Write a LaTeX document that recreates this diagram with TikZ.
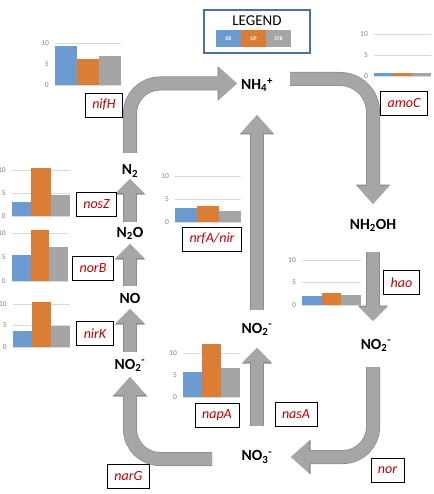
\documentclass[tikz,border=0pt]{standalone}
\usepackage{fontspec}
\setmainfont{Carlito}
\usepackage{tikz}
\usetikzlibrary{arrows.meta,calc}

\definecolor{ercol}{HTML}{6C9BD2}
\definecolor{gpcol}{HTML}{DC7D36}
\definecolor{stbcol}{HTML}{A5A5A5}
\definecolor{flowfill}{HTML}{A6A6A6}
\definecolor{flowedge}{HTML}{8C8C8C}
\definecolor{genered}{HTML}{C00000}
\definecolor{legendblue}{HTML}{4F6FA0}
\definecolor{gridcol}{HTML}{D9D9D9}
\definecolor{tickcol}{HTML}{808080}

\tikzset{
  chem/.style={font=\fontsize{15.5}{18}\selectfont\bfseries, inner sep=1pt},
  gene/.style={draw=black, line width=0.6pt, fill=white, text=genered,
    font=\fontsize{14}{16}\selectfont\itshape, inner xsep=7pt, inner ysep=0pt,
    minimum height=24pt},
  tick/.style={anchor=east, inner sep=0pt, text=tickcol, font=\fontsize{7.5}{9}\selectfont},
  gridline/.style={draw=gridcol, line width=0.8pt},
  chip/.style={minimum width=25pt, minimum height=17pt, inner sep=0pt, text=white,
    font=\fontsize{5.5}{6}\selectfont\bfseries},
  bigflow/.style={draw=flowfill, line width=12.5pt, -{Triangle[length=18pt,width=31pt]},
    preaction={draw=flowedge, line width=14pt, -{Triangle[length=19.5pt,width=33.5pt]}}},
  smallflow/.style={draw=flowfill, line width=12.5pt, -{Triangle[length=14pt,width=27pt]},
    preaction={draw=flowedge, line width=14pt, -{Triangle[length=15.5pt,width=29.5pt]}}},
}

% bar chart: name, x0, y0, px per unit, bar width, ER, GP, STB
\newcommand{\exprchart}[8]{%
  \foreach \t in {0,5,10} {
    \draw[gridline] (#2,#3-\t*#4) -- ++(3*#5,0);
    \node at (#2-6,#3-\t*#4) (#1-\t) [tick] {\t};
  }
  \fill[ercol]  (#2,#3) rectangle ++(#5,-#6*#4);
  \fill[gpcol]  (#2+#5,#3) rectangle ++(#5,-#7*#4);
  \fill[stbcol] (#2+2*#5,#3) rectangle ++(#5,-#8*#4);
}

\begin{document}
\begin{tikzpicture}[x=1pt,y=-1pt]
  \useasboundingbox (0,0) rectangle (433,494);

  % expression charts
  \exprchart{nifhchart}{55}{85}{4.2}{22}{9.3}{6.2}{6.9}
  \exprchart{amocchart}{374}{76}{4.2}{19}{0.6}{0.8}{0.8}
  \exprchart{noszchart}{12}{216}{4.6}{19.3}{3.0}{10.4}{4.6}
  \exprchart{norbchart}{12}{281}{4.8}{18.7}{5.4}{10.6}{7.1}
  \exprchart{nirkchart}{13}{347}{4.3}{19}{3.7}{10.5}{4.9}
  \exprchart{nrfachart}{175}{222}{4.6}{22}{3.0}{3.5}{2.4}
  \exprchart{haochart}{302}{305}{4.5}{19.7}{2.0}{2.7}{2.2}
  \exprchart{napachart}{183}{397}{4.4}{19}{5.7}{12.0}{6.6}

  % legend
  \node at (257,31.5) (legend) [draw=legendblue, line width=1.5pt, minimum width=106pt, minimum height=43pt] {};
  \node at (257,20.5) (legendtitle) [font=\fontsize{15}{17}\selectfont] {LEGEND};
  \node at (228.5,38.5) (er) [chip, fill=ercol] {ER};
  \node at (253.5,38.5) (gp) [chip, fill=gpcol] {GP};
  \node at (278.5,38.5) (stb) [chip, fill=stbcol] {STB};

  % compounds
  \node at (257,85) (nh4) [chem] {NH\textsubscript{4}\textsuperscript{+}};
  \node at (373,225) (nh2oh) [chem] {NH\textsubscript{2}OH};
  \node at (376,345) (no2r) [chem] {NO\textsubscript{2}\textsuperscript{-}};
  \node at (257,457) (no3) [chem] {NO\textsubscript{3}\textsuperscript{-}};
  \node at (257,329) (no2m) [chem] {NO\textsubscript{2}\textsuperscript{-}};
  \node at (130,365) (no2l) [chem] {NO\textsubscript{2}\textsuperscript{-}};
  \node at (130,298) (no) [chem] {NO};
  \node at (130,233) (n2o) [chem] {N\textsubscript{2}O};
  \node at (130,171) (n2) [chem] {N\textsubscript{2}};

  % flows
  \draw[bigflow, rounded corners=30pt] ($(n2)+(0,-18)$) |- ($(nh4)+(-20,-1.5)$);
  \draw[bigflow, rounded corners=33pt] ($(nh4)+(33,-6)$) -| ($(nh2oh)+(0,-21)$);
  \draw[smallflow] ($(nh2oh)+(0,27)$) -- ($(nh2oh |- no2r)+(0,-24)$);
  \draw[bigflow, rounded corners=30pt] ($(nh2oh |- no2r)+(0,22)$) |- ($(no3)+(34,0)$);
  \draw[smallflow] ($(no3)+(0,-31)$) -- ($(no2m)+(0,19)$);
  \draw[bigflow] ($(no2m)+(0,-19)$) -- ($(nh4)+(0,30)$);
  \draw[bigflow, rounded corners=30pt] ($(no3)+(-45,2)$) -| ($(no2l)+(0,12)$);
  \draw[smallflow] ($(no2l)+(0,-13)$) -- ($(no)+(0,11)$);
  \draw[smallflow] ($(no)+(0,-12)$) -- ($(n2o)+(0,11)$);
  \draw[smallflow] ($(n2o)+(0,-11)$) -- ($(n2)+(0,8)$);

  % genes
  \node at (104,105) (nifh) [gene] {nifH};
  \node at (404,103.5) (amoc) [gene] {amoC};
  \node at (401.5,282.5) (hao) [gene] {hao};
  \node at (96.5,204.5) (nosz) [gene] {nosZ};
  \node at (93,268) (norb) [gene] {norB};
  \node at (95,333.5) (nirk) [gene] {nirK};
  \node at (212,239) (nrfa) [gene] {nrfA/nir};
  \node at (217,415) (napa) [gene] {napA};
  \node at (296,414) (nasa) [gene] {nasA};
  \node at (128.5,476) (narg) [gene] {narG};
  \node at (387.5,470.5) (nor) [gene] {nor};
\end{tikzpicture}
\end{document}
